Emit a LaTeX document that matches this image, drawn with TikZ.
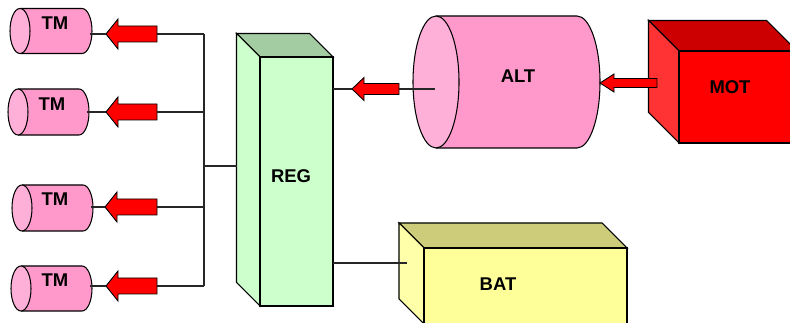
\documentclass[tikz,border=0pt]{standalone}
\usepackage{fontspec}
\setmainfont{Liberation Sans}

\definecolor{drumpink}{HTML}{FF99CC}
\definecolor{drumlight}{HTML}{FFB0D8}
\definecolor{regfront}{HTML}{CCFFCC}
\definecolor{regtop}{HTML}{A3CCA3}
\definecolor{motfront}{HTML}{FF0000}
\definecolor{mottop}{HTML}{CC0000}
\definecolor{motside}{HTML}{FF3333}
\definecolor{batfront}{HTML}{FFFF99}
\definecolor{battop}{HTML}{CCCC7A}
\definecolor{batside}{HTML}{FFFFAA}

\tikzset{
  wire/.style={line width=0.6pt, black!85},
  pushfill/.style={fill=red, draw=black, line width=0.5pt},
  boxtext/.style={font=\bfseries\fontsize{10.5}{12}\selectfont, inner sep=0pt}
}

% drum: name, face x, mid y, end x, y radius, x radius
\newcommand{\drumshape}[6]{%
  \path[fill=drumpink, draw, line width=0.6pt] (#2,#3-#5) -- (#4-#6,#3-#5)
    arc[start angle=-90, end angle=90, x radius=#6, y radius=#5] -- (#2,#3+#5);
  \draw[fill=drumlight, line width=0.6pt] (#2,#3) ellipse[x radius=#6, y radius=#5];
  \coordinate (#1-end) at (#4-2,#3);
}

% block arrow: name, tip x, y, length, head length, head half, shaft half
\newcommand{\pusharrow}[7]{%
  \draw[pushfill] (#2,#3) -- (#2+#5,#3-#6) -- (#2+#5,#3-#7) -- (#2+#4,#3-#7)
    -- (#2+#4,#3+#7) -- (#2+#5,#3+#7) -- (#2+#5,#3+#6) -- cycle;
  \coordinate (#1-tip) at (#2,#3);
  \coordinate (#1-tail) at (#2+#4,#3);
}

% box: name, left, top, right, bottom, depth, front, top, side
\newcommand{\crate}[9]{%
  \draw[fill=#8, line width=0.6pt] (#2,#3) -- (#2-#6,#3-#6) -- (#4-#6,#3-#6) -- (#4,#3) -- cycle;
  \draw[fill=#9, line width=0.6pt] (#2,#3) -- (#2-#6,#3-#6) -- (#2-#6,#5-#6) -- (#2,#5) -- cycle;
  \draw[fill=#7, line width=0.6pt] (#2,#3) rectangle (#4,#5);
  \coordinate (#1-nw) at (#2,#3);
}

\begin{document}
\begin{tikzpicture}[x=0.02cm, y=-0.02cm]
    \useasboundingbox (0,0) rectangle (790,323);
    \clip (0,0) rectangle (790,323);

    % Regulator box
    \crate{reg}{260}{57}{333}{306}{23.5}{regfront}{regtop}{regfront}
    \node[boxtext] (regtext) at (291,176) {REG};

    % Motor and alternator
    \crate{mot}{679}{51}{797}{143}{30.5}{motfront}{mottop}{motside}
    \node[boxtext] (mottext) at (730,87) {MOT};
    \drumshape{alt}{436}{82}{600}{66}{23}
    \node[boxtext] (alttext) at (518,76) {ALT};
    \pusharrow{motarrow}{600}{83}{57}{14}{9}{4.5}

    % Battery
    \crate{bat}{424}{248}{627}{324}{25}{batfront}{battop}{batside}
    \node[boxtext] (battext) at (498,284) {BAT};

    % Traction motors
    \drumshape{tm1}{20}{31}{92}{22.5}{10}
    \drumshape{tm2}{18}{112}{89}{23}{10}
    \drumshape{tm3}{22}{208}{93}{23}{10}
    \drumshape{tm4}{21}{288.5}{92}{22.5}{10}
    \node[boxtext] (tmtext1) at (55,23) {TM};
    \node[boxtext] (tmtext2) at (52,104) {TM};
    \node[boxtext] (tmtext3) at (55,199) {TM};
    \node[boxtext] (tmtext4) at (55,280) {TM};

    % Arrows to the motors
    \pusharrow{a1}{106}{34}{51}{12}{15}{8}
    \pusharrow{a2}{106}{112}{51}{12}{15}{8}
    \pusharrow{a3}{105}{207}{52}{12}{15}{8}
    \pusharrow{a4}{106}{286}{51}{12}{15}{8}
    \pusharrow{altarrow}{352}{89}{47}{12}{11.5}{5.5}

    % Wiring
    \coordinate (bus) at (204,166);
    \coordinate (reg-side) at (237,166);
    \coordinate (reg-out) at (333,89);
    \coordinate (alt-in) at (435,89);
    \coordinate (reg-low) at (333,263);
    \coordinate (bat-in) at (407,263);
    \draw[wire] (a1-tail -| bus) -- (a4-tail -| bus);
    \draw[wire] (bus) -- (reg-side);
    \draw[wire] (a1-tail) -- (a1-tail -| bus);
    \draw[wire] (a2-tail) -- (a2-tail -| bus);
    \draw[wire] (a3-tail) -- (a3-tail -| bus);
    \draw[wire] (a4-tail) -- (a4-tail -| bus);
    \draw[wire] (a1-tip) -- (a1-tip -| tm1-end);
    \draw[wire] (a2-tip) -- (a2-tip -| tm2-end);
    \draw[wire] (a3-tip) -- (a3-tip -| tm3-end);
    \draw[wire] (a4-tip) -- (a4-tip -| tm4-end);
    \draw[wire] (reg-out) -- (altarrow-tip);
    \draw[wire] (altarrow-tail) -- (alt-in);
    \draw[wire] (reg-low) -- (bat-in);

\end{tikzpicture}
\end{document}
